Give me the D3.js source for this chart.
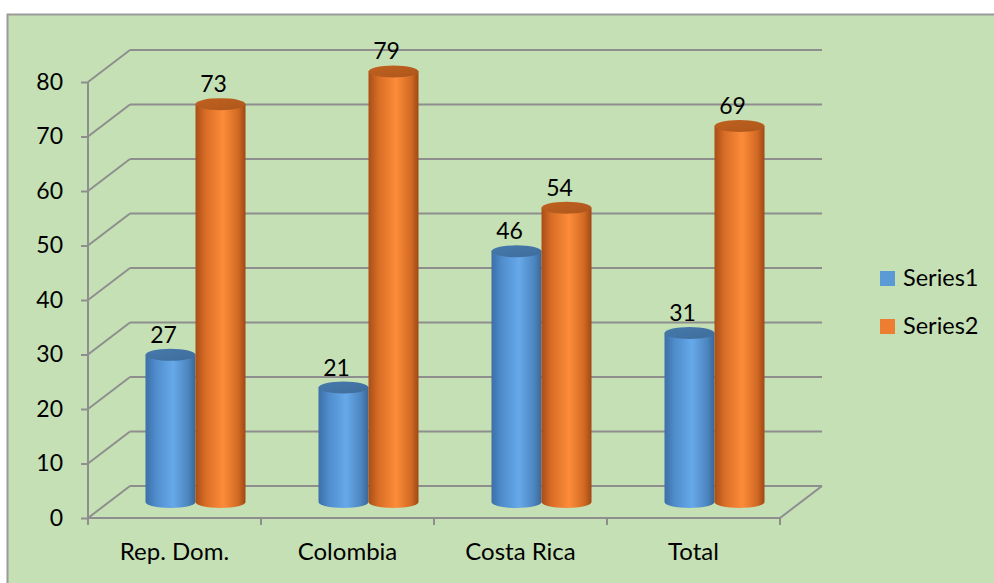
<!DOCTYPE html>
<html><head><meta charset="utf-8">
<script src="https://cdn.jsdelivr.net/npm/d3@7"></script>
<style>body{margin:0;background:#fff}svg{display:block}</style>
</head><body><svg id="c" width="994" height="583"></svg>
<script>
const categories=["Rep. Dom.","Colombia","Costa Rica","Total"];
const seriesNames=["Series1","Series2"];
const series1=[27,21,46,31];
const series2=[73,79,54,69];
const yTicks=[0,10,20,30,40,50,60,70,80];

const svg=d3.select("#c");
const FONT="Lato, 'Liberation Sans', sans-serif";
const grid="#8e8e8e";
const depth={dx:42,dy:-32};
const mid={dx:21,dy:-16};

svg.append("rect").attr("x",7.5).attr("y",14.5).attr("width",1000).attr("height",600)
  .attr("fill","#c5e0b4").attr("stroke","#9a9a9a").attr("stroke-width",2);

const x=d3.scaleBand().domain(categories).range([88,780]).paddingInner(0).paddingOuter(0);
const xs=d3.scaleBand().domain(seriesNames).range([0,x.bandwidth()]).paddingInner(0).paddingOuter(0.73);
const y=d3.scaleLinear().domain([0,80]).range([518,82]);
const x0=x.range()[0], x1=x.range()[1];

// walls / gridlines
const g=svg.append("g").attr("fill","none").attr("stroke",grid).attr("stroke-width",2);
yTicks.forEach(t=>{
  g.append("line").attr("x1",x0).attr("y1",y(t)).attr("x2",x0+depth.dx).attr("y2",y(t)+depth.dy);
  g.append("line").attr("x1",x0+depth.dx).attr("y1",y(t)+depth.dy).attr("x2",x1+depth.dx).attr("y2",y(t)+depth.dy);
});
g.append("line").attr("x1",x0).attr("y1",y(0)).attr("x2",x1).attr("y2",y(0));
g.append("line").attr("x1",x1).attr("y1",y(0)).attr("x2",x1+depth.dx).attr("y2",y(0)+depth.dy);
const bounds=categories.map(c=>x(c)).concat([x1]);
bounds.forEach(b=>g.append("line").attr("x1",b).attr("y1",y(0)).attr("x2",b).attr("y2",y(0)+7));

// y axis
const ya=svg.append("g").attr("transform",`translate(${x0},0)`)
  .call(d3.axisLeft(y).tickValues(yTicks).tickSize(7).tickPadding(18).tickFormat(d3.format("d")));
ya.selectAll("path,line").attr("stroke",grid).attr("stroke-width",2);
ya.select("path.domain").attr("d",`M0,${y(0)}V${y(80)}`);
ya.selectAll("text").attr("font-family",FONT).attr("font-size",23).attr("fill","#000");

// category labels
svg.append("g").selectAll("text").data(categories).join("text")
  .attr("x",d=>x(d)+x.bandwidth()/2).attr("y",560).attr("text-anchor","middle")
  .attr("font-family",FONT).attr("font-size",24).attr("fill","#000").text(d=>d);

// gradients
const defs=svg.append("defs");
const palettes={
  Series1:{stops:[["0%","#3c6fa6"],["20%","#4f8ccb"],["55%","#66a9ea"],["85%","#4d86c0"],["100%","#3b6796"]],top:"#4679ad",legend:"#5b9bd5"},
  Series2:{stops:[["0%","#a94e17"],["20%","#d86d26"],["55%","#fd8c39"],["85%","#d26a24"],["100%","#9f4814"]],top:"#c0611f",legend:"#ed7d31"}
};
seriesNames.forEach(s=>{
  const lg=defs.append("linearGradient").attr("id","g"+s).attr("x1","0%").attr("x2","100%").attr("y1","0%").attr("y2","0%");
  palettes[s].stops.forEach(st=>lg.append("stop").attr("offset",st[0]).attr("stop-color",st[1]));
  const tg=defs.append("linearGradient").attr("id","t"+s).attr("x1","0%").attr("x2","100%").attr("y1","0%").attr("y2","100%");
  tg.append("stop").attr("offset","0%").attr("stop-color",palettes[s].top);
  tg.append("stop").attr("offset","100%").attr("stop-color",d3.color(palettes[s].top).darker(0.3));
});

// bars
const data=[];
categories.forEach((c,i)=>{
  data.push({c,s:"Series1",v:series1[i]});
  data.push({c,s:"Series2",v:series2[i]});
});
const ry=6;
const bars=svg.append("g");
data.forEach(d=>{
  const w=xs.bandwidth(), rx=w/2;
  const cx=x(d.c)+xs(d.s)+rx+mid.dx;
  const yb=y(0)+mid.dy, yt=y(d.v)+mid.dy;
  bars.append("path")
    .attr("d",`M${cx-rx},${yt}L${cx-rx},${yb}A${rx},${ry} 0 0 0 ${cx+rx},${yb}L${cx+rx},${yt}Z`)
    .attr("fill",`url(#g${d.s})`);
  bars.append("ellipse").attr("cx",cx).attr("cy",yt).attr("rx",rx).attr("ry",ry)
    .attr("fill",`url(#t${d.s})`);
  bars.append("text").attr("x",cx-7).attr("y",yt-12).attr("text-anchor","middle")
    .attr("font-family",FONT).attr("font-size",23).attr("fill","#000").text(d.v);
});

// legend
const leg=svg.append("g");
seriesNames.forEach((s,i)=>{
  const yy=271+i*48;
  leg.append("rect").attr("x",880).attr("y",yy).attr("width",15).attr("height",15).attr("fill",palettes[s].legend);
  leg.append("text").attr("x",903).attr("y",yy+15).attr("font-family",FONT).attr("font-size",23.5)
    .attr("fill","#000").text(s);
});
</script></body></html>
